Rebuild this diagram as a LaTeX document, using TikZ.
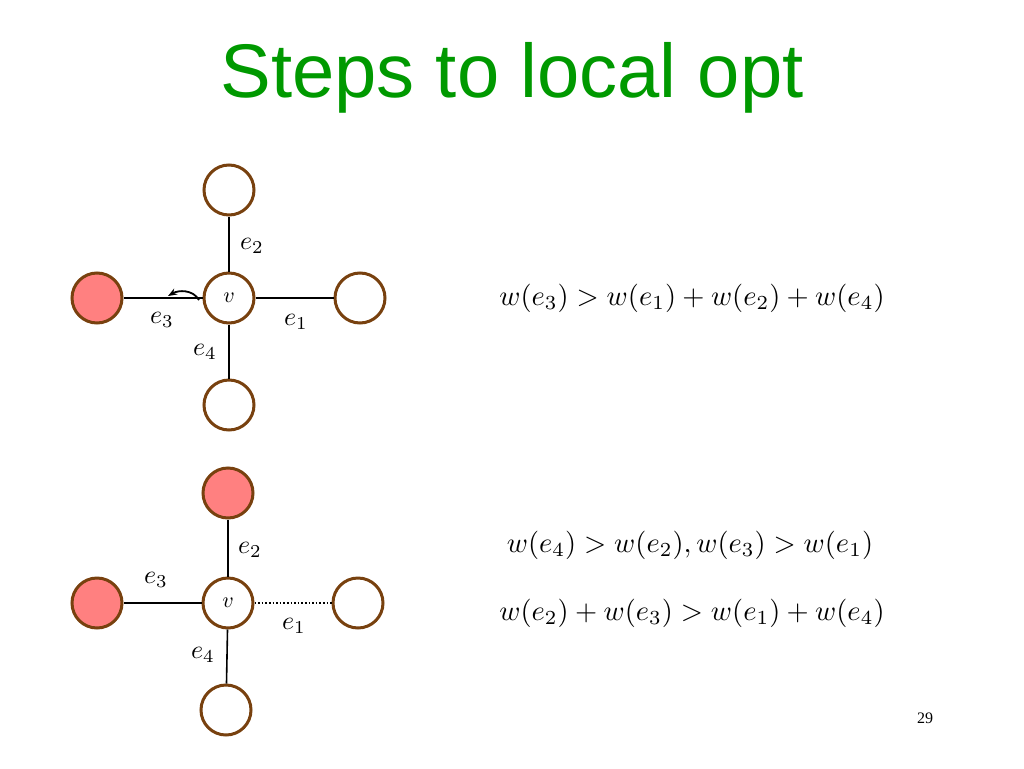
\documentclass[tikz,border=0pt]{standalone}
\usepackage{fontspec}
\usepackage{graphicx}
\usetikzlibrary{arrows.meta}
\setmainfont{Liberation Serif}
\newfontfamily\titlefont{Liberation Sans}
\definecolor{brn}{RGB}{120,65,15}
\definecolor{pinkred}{RGB}{255,128,128}
\begin{document}
\begin{tikzpicture}[x=1pt,y=-1pt,
  vtx/.style={circle,draw=brn,line width=3pt,minimum size=50pt,inner sep=0pt,fill=white},
  red/.style={vtx,fill=pinkred},
  edge/.style={line width=1.6pt},
  lab/.style={inner sep=0pt},
  form/.style={inner sep=0pt}]
\useasboundingbox (0,0) rectangle (1024,768);
\node[font=\titlefont\fontsize{76}{80}\selectfont,text=green!60!black] (title) at (512,78) {Steps to local opt};
% top
\node[vtx] (v1) at (229,298) {\scalebox{2.2}{$v$}};
\node[vtx] (t1) at (229,190) {};
\node[red] (l1) at (97,298) {};
\node[vtx] (r1) at (360,298) {};
\node[vtx] (b1) at (229,405) {};
\draw[edge] (v1)--(t1); \draw[edge] (v1)--(l1); \draw[edge] (v1)--(r1); \draw[edge] (v1)--(b1);
\node[lab] (e21) at (252,246) {\scalebox{2.6}{$e_2$}};
\node[lab] (e31) at (162,320) {\scalebox{2.6}{$e_3$}};
\node[lab] (e11) at (296,322) {\scalebox{2.6}{$e_1$}};
\node[lab] (e41) at (205,352) {\scalebox{2.6}{$e_4$}};
\coordinate (a1s) at (199,300);
\coordinate (a1e) at (168,296);
\draw[line width=1.8pt,-{Stealth[length=9pt]}] (a1s) to[out=120,in=30] (a1e);
\node[form] (f1) at (692,298) {\scalebox{2.85}{$w(e_3)>w(e_1)+w(e_2)+w(e_4)$}};
% bottom
\node[vtx] (v2) at (228,603) {\scalebox{2.2}{$v$}};
\node[red] (t2) at (228,493) {};
\node[red] (l2) at (97,603) {};
\node[vtx] (r2) at (358,603) {};
\node[vtx] (b2) at (226,710) {};
\draw[edge] (v2)--(t2); \draw[edge] (v2)--(l2); \draw[edge] (v2)--(b2);
\draw[line width=1.6pt,dotted] (v2)--(r2);
\node[lab] (e22) at (250,550) {\scalebox{2.6}{$e_2$}};
\node[lab] (e32) at (156,580) {\scalebox{2.6}{$e_3$}};
\node[lab] (e12) at (294,626) {\scalebox{2.6}{$e_1$}};
\node[lab] (e42) at (203,655) {\scalebox{2.6}{$e_4$}};
\node[form] (f2) at (690,545) {\scalebox{2.85}{$w(e_4)>w(e_2), w(e_3)>w(e_1)$}};
\node[form] (f3) at (692,613) {\scalebox{2.85}{$w(e_2)+w(e_3)>w(e_1)+w(e_4)$}};
\node[font=\fontsize{16}{18}\selectfont] (pg) at (925,718) {29};
\end{tikzpicture}
\end{document}
